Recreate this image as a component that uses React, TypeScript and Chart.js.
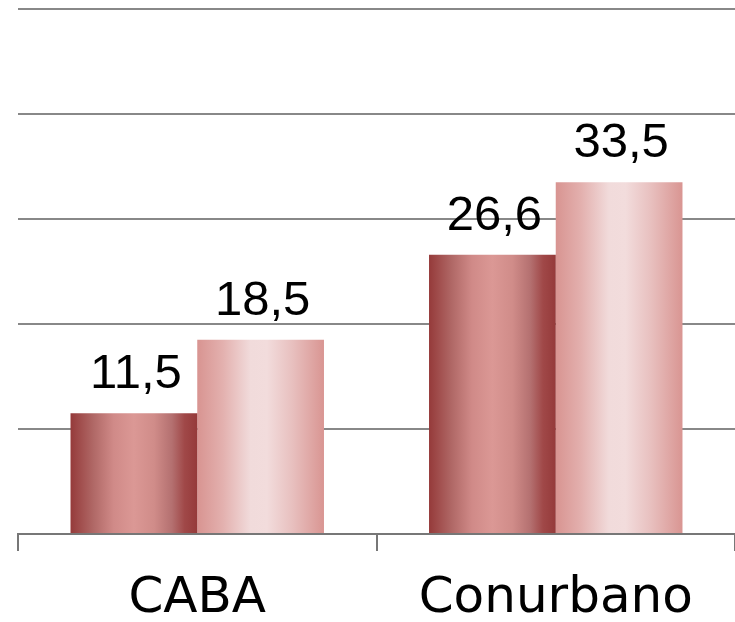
import React, { useEffect, useRef } from "react";
import { Chart, registerables } from "chart.js";

Chart.register(...registerables);

const categories = ["CABA", "Conurbano"];
const seriesA = [11.5, 26.6];
const seriesB = [18.5, 33.5];
const yMax = 50;
const yStep = 10;

const stopsA: [number, string][] = [
  [0, "#953a3a"],
  [0.18, "#b06866"],
  [0.34, "#d08a88"],
  [0.5, "#db9895"],
  [0.66, "#d08c89"],
  [0.8, "#b47070"],
  [0.9, "#a04848"],
  [1, "#953a3a"],
];
const stopsB: [number, string][] = [
  [0, "#d89491"],
  [0.2, "#e3b0ae"],
  [0.42, "#f1dbdb"],
  [0.55, "#f2dcdc"],
  [0.75, "#e8c0bf"],
  [1, "#d99592"],
];

const fmt = (v: number) => v.toFixed(1).replace(".", ",");

export default function App() {
  const ref = useRef<HTMLCanvasElement | null>(null);
  useEffect(() => {
    if (!ref.current) return;
    const gradientPlugin = {
      id: "barGradient",
      beforeDatasetsDraw(chart: any) {
        const ctx = chart.ctx;
        chart.data.datasets.forEach((ds: any, di: number) => {
          const meta = chart.getDatasetMeta(di);
          const stops = di === 0 ? stopsA : stopsB;
          meta.data.forEach((bar: any) => {
            const w = bar.width;
            const g = ctx.createLinearGradient(bar.x - w / 2, 0, bar.x + w / 2, 0);
            stops.forEach(([p, c]) => g.addColorStop(p, c));
            bar.options = Object.assign({}, bar.options, { backgroundColor: g });
          });
        });
      },
    };
    const labelPlugin = {
      id: "valueLabels",
      afterDatasetsDraw(chart: any) {
        const ctx = chart.ctx;
        ctx.save();
        ctx.fillStyle = "#000";
        ctx.font = '49px "Liberation Sans", Arial, sans-serif';
        ctx.textAlign = "center";
        ctx.textBaseline = "alphabetic";
        chart.data.datasets.forEach((ds: any, di: number) => {
          const meta = chart.getDatasetMeta(di);
          meta.data.forEach((bar: any, i: number) => {
            ctx.fillText(fmt(ds.data[i]), bar.x + 2, bar.y - 25);
          });
        });
        ctx.restore();
      },
    };
    const chart = new Chart(ref.current, {
      type: "bar",
      data: {
        labels: categories,
        datasets: [
          { label: "A", data: seriesA, backgroundColor: "#c07a78", borderWidth: 0 },
          { label: "B", data: seriesB, backgroundColor: "#e8c0bf", borderWidth: 0 },
        ],
      },
      options: {
        animation: false,
        responsive: false,
        maintainAspectRatio: false,
        layout: { padding: { left: 18, top: 9, right: 0, bottom: -25 } },
        plugins: { legend: { display: false }, tooltip: { enabled: false } },
        datasets: { bar: { categoryPercentage: 0.707, barPercentage: 1 } },
        scales: {
          x: {
            grid: {
              display: true,
              drawOnChartArea: false,
              drawTicks: true,
              tickLength: 17,
              color: "#777777",
              lineWidth: 2,
              offset: true,
            },
            border: { display: true, color: "#777777", width: 2 },
            ticks: {
              color: "#000",
              font: { family: '"DejaVu Sans", sans-serif', size: 50, lineHeight: 1.0 },
              padding: 23,
              maxRotation: 0,
            },
          },
          y: {
            min: 0,
            max: yMax,
            ticks: { display: false, stepSize: yStep },
            border: { display: false },
            grid: { color: "#888888", lineWidth: 2, drawTicks: false, tickLength: 0 },
          },
        },
      },
      plugins: [gradientPlugin, labelPlugin],
    });
    return () => chart.destroy();
  }, []);
  return (
    <div style={{ position: "fixed", left: 0, top: 0, width: 735, height: 622, background: "#fff" }}>
      <canvas ref={ref} width={735} height={622} style={{ display: "block" }} />
    </div>
  );
}
